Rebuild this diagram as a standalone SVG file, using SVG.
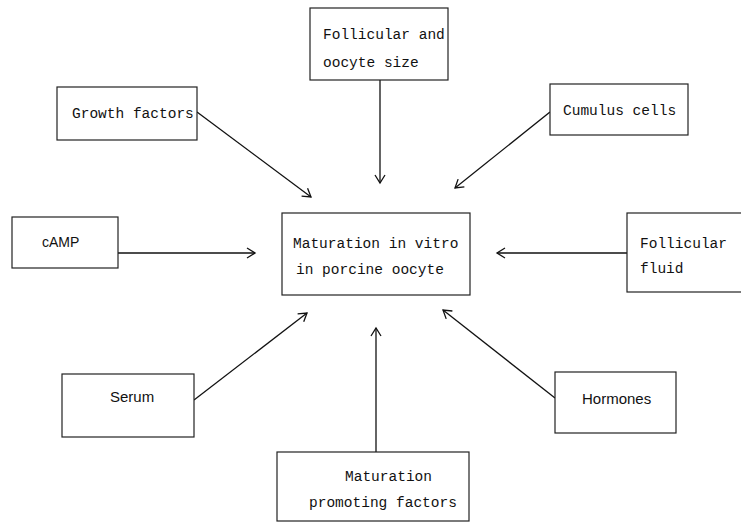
<svg xmlns="http://www.w3.org/2000/svg" width="741" height="531" viewBox="0 0 741 531">
<style>
.box{fill:#fff;stroke:#222;stroke-width:1.2}
.t{font-family:"Liberation Mono","DejaVu Sans Mono",monospace;font-size:14.5px;fill:#111}
.p{font-family:"Liberation Sans",Arial,sans-serif;font-size:14px;fill:#111}
.c{fill:none;stroke:#111;stroke-width:1.3}
</style>
<defs>
<marker id="ah" markerUnits="userSpaceOnUse" markerWidth="14" markerHeight="14" refX="10" refY="6" orient="auto">
<path d="M2,1 L10,6 L2,11" fill="none" stroke="#111" stroke-width="1.3"/>
</marker>
</defs>
<rect width="741" height="531" fill="#fff"/>
<g id="connectors">
<line class="c" x1="380" y1="80" x2="380" y2="183" marker-end="url(#ah)"/>
<line class="c" x1="197" y1="112" x2="311" y2="197" marker-end="url(#ah)"/>
<line class="c" x1="550" y1="112" x2="455" y2="188" marker-end="url(#ah)"/>
<line class="c" x1="118" y1="253" x2="255" y2="253" marker-end="url(#ah)"/>
<line class="c" x1="627" y1="253" x2="497" y2="253" marker-end="url(#ah)"/>
<line class="c" x1="194" y1="400" x2="307" y2="313" marker-end="url(#ah)"/>
<line class="c" x1="555" y1="398" x2="443" y2="310" marker-end="url(#ah)"/>
<line class="c" x1="376" y1="452" x2="376" y2="328" marker-end="url(#ah)"/>
</g>
<g id="follicular-oocyte-size">
<rect class="box" x="310" y="8" width="138" height="72"/>
<text class="t" x="323" y="39">Follicular and</text>
<text class="t" x="323" y="67">oocyte size</text>
</g>
<g id="growth-factors">
<rect class="box" x="57" y="87" width="140" height="53"/>
<text class="t" x="72" y="118">Growth factors</text>
</g>
<g id="cumulus-cells">
<rect class="box" x="550" y="84" width="138" height="51"/>
<text class="t" x="563" y="115">Cumulus cells</text>
</g>
<g id="camp">
<rect class="box" x="12" y="217" width="106" height="51"/>
<text class="p" x="42" y="247">cAMP</text>
</g>
<g id="maturation-in-vitro">
<rect class="box" x="282" y="213" width="188" height="82"/>
<text class="t" x="293" y="248">Maturation in vitro</text>
<text class="t" x="296" y="274">in porcine oocyte</text>
</g>
<g id="follicular-fluid">
<rect class="box" x="627" y="213" width="120" height="79"/>
<text class="t" x="640" y="248">Follicular</text>
<text class="t" x="640" y="273">fluid</text>
</g>
<g id="serum">
<rect class="box" x="62" y="374" width="132" height="63"/>
<text class="p" x="110" y="402" style="font-size:15px">Serum</text>
</g>
<g id="hormones">
<rect class="box" x="555" y="372" width="121" height="61"/>
<text class="p" x="582" y="404" style="font-size:15px">Hormones</text>
</g>
<g id="maturation-promoting-factors">
<rect class="box" x="277" y="452" width="192" height="69"/>
<text class="t" x="345" y="481">Maturation</text>
<text class="t" x="309" y="507">promoting factors</text>
</g>
</svg>
